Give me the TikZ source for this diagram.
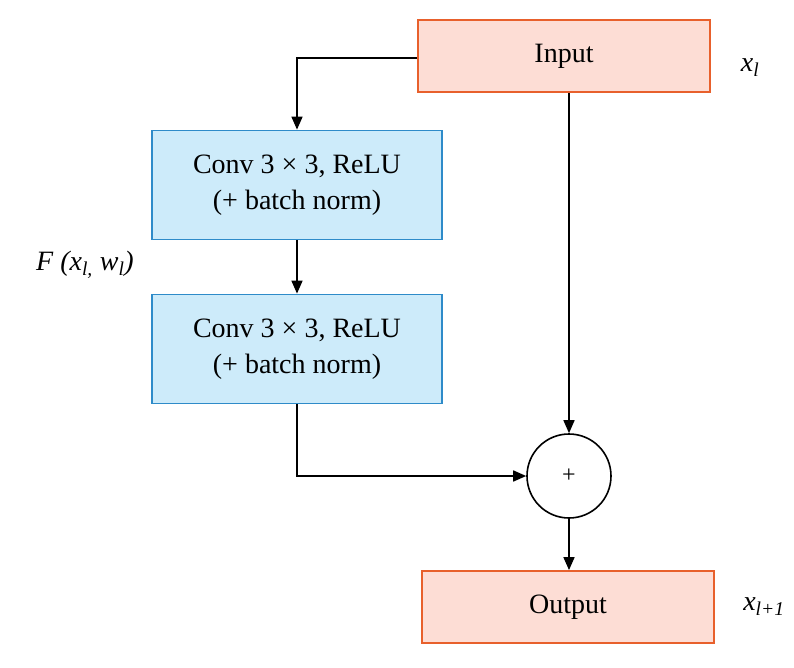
\documentclass[tikz,border=0pt]{standalone}
\usepackage{fontspec}
\setmainfont{Liberation Serif}
\usetikzlibrary{arrows.meta}
\definecolor{rfill}{HTML}{FDDDD5}
\definecolor{rdraw}{HTML}{E8602C}
\definecolor{bfill}{HTML}{CDEBFA}
\definecolor{bdraw}{HTML}{2E8BC9}
\begin{document}
\begin{tikzpicture}[x=1pt,y=-1pt,
  io/.style={draw=rdraw,fill=rfill,line width=1.8pt,minimum width=292pt,minimum height=72pt,font=\fontsize{28}{32}\selectfont},
  cv/.style={draw=bdraw,fill=bfill,line width=1.8pt,minimum width=290pt,minimum height=109pt,align=center,font=\fontsize{28}{36}\selectfont},
  arr/.style={-{Triangle[length=13pt,width=11pt]},line width=1.6pt},
  lab/.style={font=\fontsize{28}{32}\selectfont\itshape}]
\useasboundingbox (0,0) rectangle (794,668);
\node[io] (in) at (564,56) {Input};
\node[cv] (c1) at (297,185) {Conv 3 × 3, ReLU\\(+ batch norm)};
\node[cv] (c2) at (297,349) {Conv 3 × 3, ReLU\\(+ batch norm)};
\node[draw,circle,line width=1.6pt,minimum size=84pt,font=\fontsize{24}{28}\selectfont] (p) at (569,476) {+};
\node[lab] (xl) at (750,68) {x\textsubscript{l}};
\node[lab] (f) at (85,265) {F (x\textsubscript{l,} w\textsubscript{l})};
\node[lab] (xl1) at (764,607) {x\textsubscript{l+1}};
\node[io] (out) at (568,607) {Output};
\coordinate (k1) at (297,58);
\coordinate (k2) at (297,476);
\draw[arr] (in.west |- k1) -- (k1) -- (c1.north);
\draw[arr] (c1) -- (c2);
\draw[arr] (c2.south) -- (k2) -- (p.west);
\draw[arr] (p.north |- in.south) -- (p.north);
\draw[arr] (p.south) -- (p.south |- out.north);
\end{tikzpicture}
\end{document}
